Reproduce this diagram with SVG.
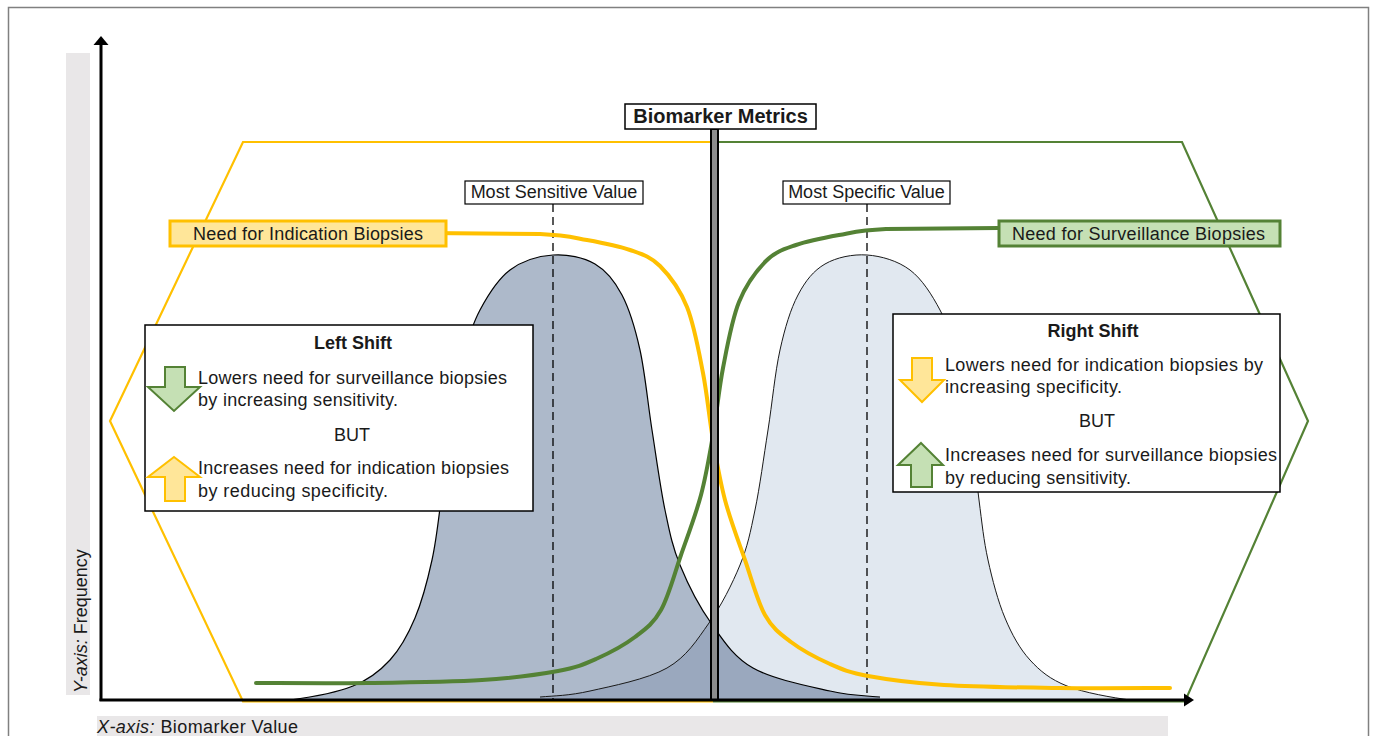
<svg xmlns="http://www.w3.org/2000/svg" width="1375" height="736" viewBox="0 0 1375 736">
<style>
.t{font-family:"Liberation Sans",Arial,sans-serif;font-size:18px;fill:#1a1a1a}
.b{font-weight:bold}
.c{text-anchor:middle}
.box{fill:#fff;stroke:#000;stroke-width:1.5}
.dash{stroke:#000;stroke-width:1.3;stroke-dasharray:8 5;fill:none}
.ycur{fill:none;stroke:#FFC000;stroke-width:4;stroke-linecap:round}
.gcur{fill:none;stroke:#548235;stroke-width:4;stroke-linecap:round}
.yhex{fill:none;stroke:#FFC000;stroke-width:2.2}
.ghex{fill:none;stroke:#548235;stroke-width:2.2}
.garr{fill:#C5E0B4;stroke:#548235;stroke-width:2;stroke-linejoin:miter}
.yarr{fill:#FFE699;stroke:#FFC000;stroke-width:2;stroke-linejoin:miter}
</style>
<defs>
<path id="bellL" d="M290,700 C307.2,697.7 336.3,692.7 353,686 C369.7,679.3 379.7,671.3 390,660 C400.3,648.7 408,634.7 415,618 C422,601.3 427.7,579.7 432,560 C436.3,540.3 438,523.3 441,500 C444,476.7 446.5,443.3 450,420 C453.5,396.7 457,378.3 462,360 C467,341.7 472,325 480,310 C488,295 497.8,279.2 510,270 C522.2,260.8 538.8,256 553,255 C567.2,254 583.5,257.3 595,264 C606.5,270.7 614.5,280.7 622,295 C629.5,309.3 635,327.5 640,350 C645,372.5 647.8,403.3 652,430 C656.2,456.7 660.3,487.5 665,510 C669.7,532.5 672.3,546.2 680,565 C687.7,583.8 698.8,605.8 711,623 C723.2,640.2 733.2,656.7 753,668 C772.8,679.3 808.8,686.2 830,691 C851.2,695.8 865,695.7 880,697"/>
<path id="bellLfill" d="M290,700 C307.2,697.7 336.3,692.7 353,686 C369.7,679.3 379.7,671.3 390,660 C400.3,648.7 408,634.7 415,618 C422,601.3 427.7,579.7 432,560 C436.3,540.3 438,523.3 441,500 C444,476.7 446.5,443.3 450,420 C453.5,396.7 457,378.3 462,360 C467,341.7 472,325 480,310 C488,295 497.8,279.2 510,270 C522.2,260.8 538.8,256 553,255 C567.2,254 583.5,257.3 595,264 C606.5,270.7 614.5,280.7 622,295 C629.5,309.3 635,327.5 640,350 C645,372.5 647.8,403.3 652,430 C656.2,456.7 660.3,487.5 665,510 C669.7,532.5 672.3,546.2 680,565 C687.7,583.8 698.8,605.8 711,623 C723.2,640.2 733.2,656.7 753,668 C772.8,679.3 808.8,686.2 830,691 C851.2,695.8 865,695.7 880,697 L880,700 Z"/>
<path id="ycurve" d="M427,233 L540,234 C566.7,235.2 572,237.3 587,240 C602,242.7 617.8,245.7 630,250 C642.2,254.3 650.5,256.5 660,266 C669.5,275.5 679.8,289.2 687,307 C694.2,324.8 698.7,350.8 703,373 C707.3,395.2 709.3,418.8 713,440 C716.7,461.2 719.7,480 725,500 C730.3,520 738.3,540.8 745,560 C751.7,579.2 757.3,601.3 765,615 C772.7,628.7 780.2,633.8 791,642 C801.8,650.2 817.2,658.3 830,664 C842.8,669.7 849,672.5 868,676 C887,679.5 912.2,683 944,685 C975.8,687 1021.3,687.5 1059,688 C1096.7,688.5 1151.5,688 1170,688"/>
<clipPath id="clipR"><use href="#bellLfill" transform="matrix(-1 0 0 1 1420 0)"/></clipPath>
</defs>

<g id="background">
<rect x="8.5" y="7.5" width="1360" height="740" fill="#fff" stroke="#808080" stroke-width="1.5"/>
<rect x="66" y="53" width="24" height="642" fill="#E9E7E8"/>
<rect x="97" y="716" width="1071" height="22" fill="#E9E7E8"/>
</g>

<g id="hexagons">
<polyline class="yhex" points="713,142 243,142 110,421 243,701.5 713,701.5"/>
<polyline class="ghex" points="713,142 1182,142 1308,421 1185,701.5 713,701.5"/>
</g>

<g id="bells">
<use href="#bellLfill" transform="matrix(-1 0 0 1 1420 0)" fill="#E1E8F0"/>
<use href="#bellLfill" fill="#ADB9CA"/>
<use href="#bellLfill" fill="#9AA8BE" clip-path="url(#clipR)"/>
<use href="#bellL" fill="none" stroke="#000" stroke-width="1.2"/>
<use href="#bellL" transform="matrix(-1 0 0 1 1420 0)" fill="none" stroke="#1a1a1a" stroke-width="1"/>
</g>

<g id="value-lines">
<line class="dash" x1="553" y1="204" x2="553" y2="700"/>
<line class="dash" x1="867" y1="204" x2="867" y2="697"/>
</g>

<g id="connectors">
<use href="#ycurve" class="ycur"/>
<use href="#ycurve" class="gcur" transform="matrix(-1 0 0 1 1426 -5)"/>
</g>

<g id="center-line">
<rect x="711" y="129" width="7" height="571" fill="#8c8c8c" stroke="#000" stroke-width="2"/>
</g>

<g id="axes">
<line x1="101" y1="701" x2="101" y2="44" stroke="#000" stroke-width="3"/>
<polygon points="93.5,45 101,36 108.5,45" fill="#000"/>
<line x1="99.5" y1="700" x2="1185" y2="700" stroke="#000" stroke-width="3"/>
<polygon points="1184,693.5 1194,700 1184,706.5" fill="#000"/>
</g>

<g id="axis-labels">
<text class="t" x="97" y="733" textLength="201" lengthAdjust="spacing"><tspan font-style="italic">X-axis:</tspan> Biomarker Value</text>
<text class="t" transform="translate(87,693) rotate(-90)"><tspan font-style="italic">Y-axis:</tspan> Frequency</text>
</g>

<g id="title">
<rect class="box" x="625" y="104" width="191" height="25"/>
<text class="t b c" x="720.5" y="123" style="font-size:20px">Biomarker Metrics</text>
</g>

<g id="most-sensitive">
<rect class="box" x="465" y="181" width="178" height="23" style="stroke-width:1.2"/>
<text class="t c" x="554" y="198">Most Sensitive Value</text>
</g>

<g id="most-specific">
<rect class="box" x="783" y="181" width="167" height="23" style="stroke-width:1.2"/>
<text class="t c" x="866.5" y="198">Most Specific Value</text>
</g>

<g id="indication-label">
<rect x="170" y="221" width="276" height="25" fill="#FFE699" stroke="#FFC000" stroke-width="3"/>
<text class="t" x="193" y="240" textLength="230" lengthAdjust="spacing">Need for Indication Biopsies</text>
</g>

<g id="surveillance-label">
<rect x="999" y="221" width="281" height="25" fill="#C5E0B4" stroke="#548235" stroke-width="3"/>
<text class="t" x="1012" y="240" textLength="253" lengthAdjust="spacing">Need for Surveillance Biopsies</text>
</g>

<g id="left-shift">
<rect class="box" x="145" y="325" width="388" height="186"/>
<text class="t b c" x="353" y="349">Left Shift</text>
<path class="garr" d="M165,367 H185 V387 H200 L174,411 L148,387 H165 Z"/>
<text class="t" x="198" y="384" textLength="309" lengthAdjust="spacing">Lowers need for surveillance biopsies</text>
<text class="t" x="198" y="406" textLength="200" lengthAdjust="spacing">by increasing sensitivity.</text>
<text class="t c" x="352" y="441">BUT</text>
<path class="yarr" d="M174,457 L200,477 H185 V501 H165 V477 H148 Z"/>
<text class="t" x="198" y="474" textLength="311" lengthAdjust="spacing">Increases need for indication biopsies</text>
<text class="t" x="198" y="497" textLength="190" lengthAdjust="spacing">by reducing specificity.</text>
</g>

<g id="right-shift">
<rect class="box" x="893" y="314" width="387" height="178"/>
<text class="t b c" x="1093" y="337">Right Shift</text>
<path class="yarr" d="M912,358 H932 V380 H944 L922,402 L900,380 H912 Z"/>
<text class="t" x="945" y="371" textLength="318" lengthAdjust="spacing">Lowers need for indication biopsies by</text>
<text class="t" x="945" y="393" textLength="177" lengthAdjust="spacing">increasing specificity.</text>
<text class="t c" x="1097" y="427">BUT</text>
<path class="garr" d="M921,443 L943,465 H932 V487 H911 V465 H898 Z"/>
<text class="t" x="945" y="461" textLength="332" lengthAdjust="spacing">Increases need for surveillance biopsies</text>
<text class="t" x="945" y="484" textLength="186" lengthAdjust="spacing">by reducing sensitivity.</text>
</g>
</svg>
